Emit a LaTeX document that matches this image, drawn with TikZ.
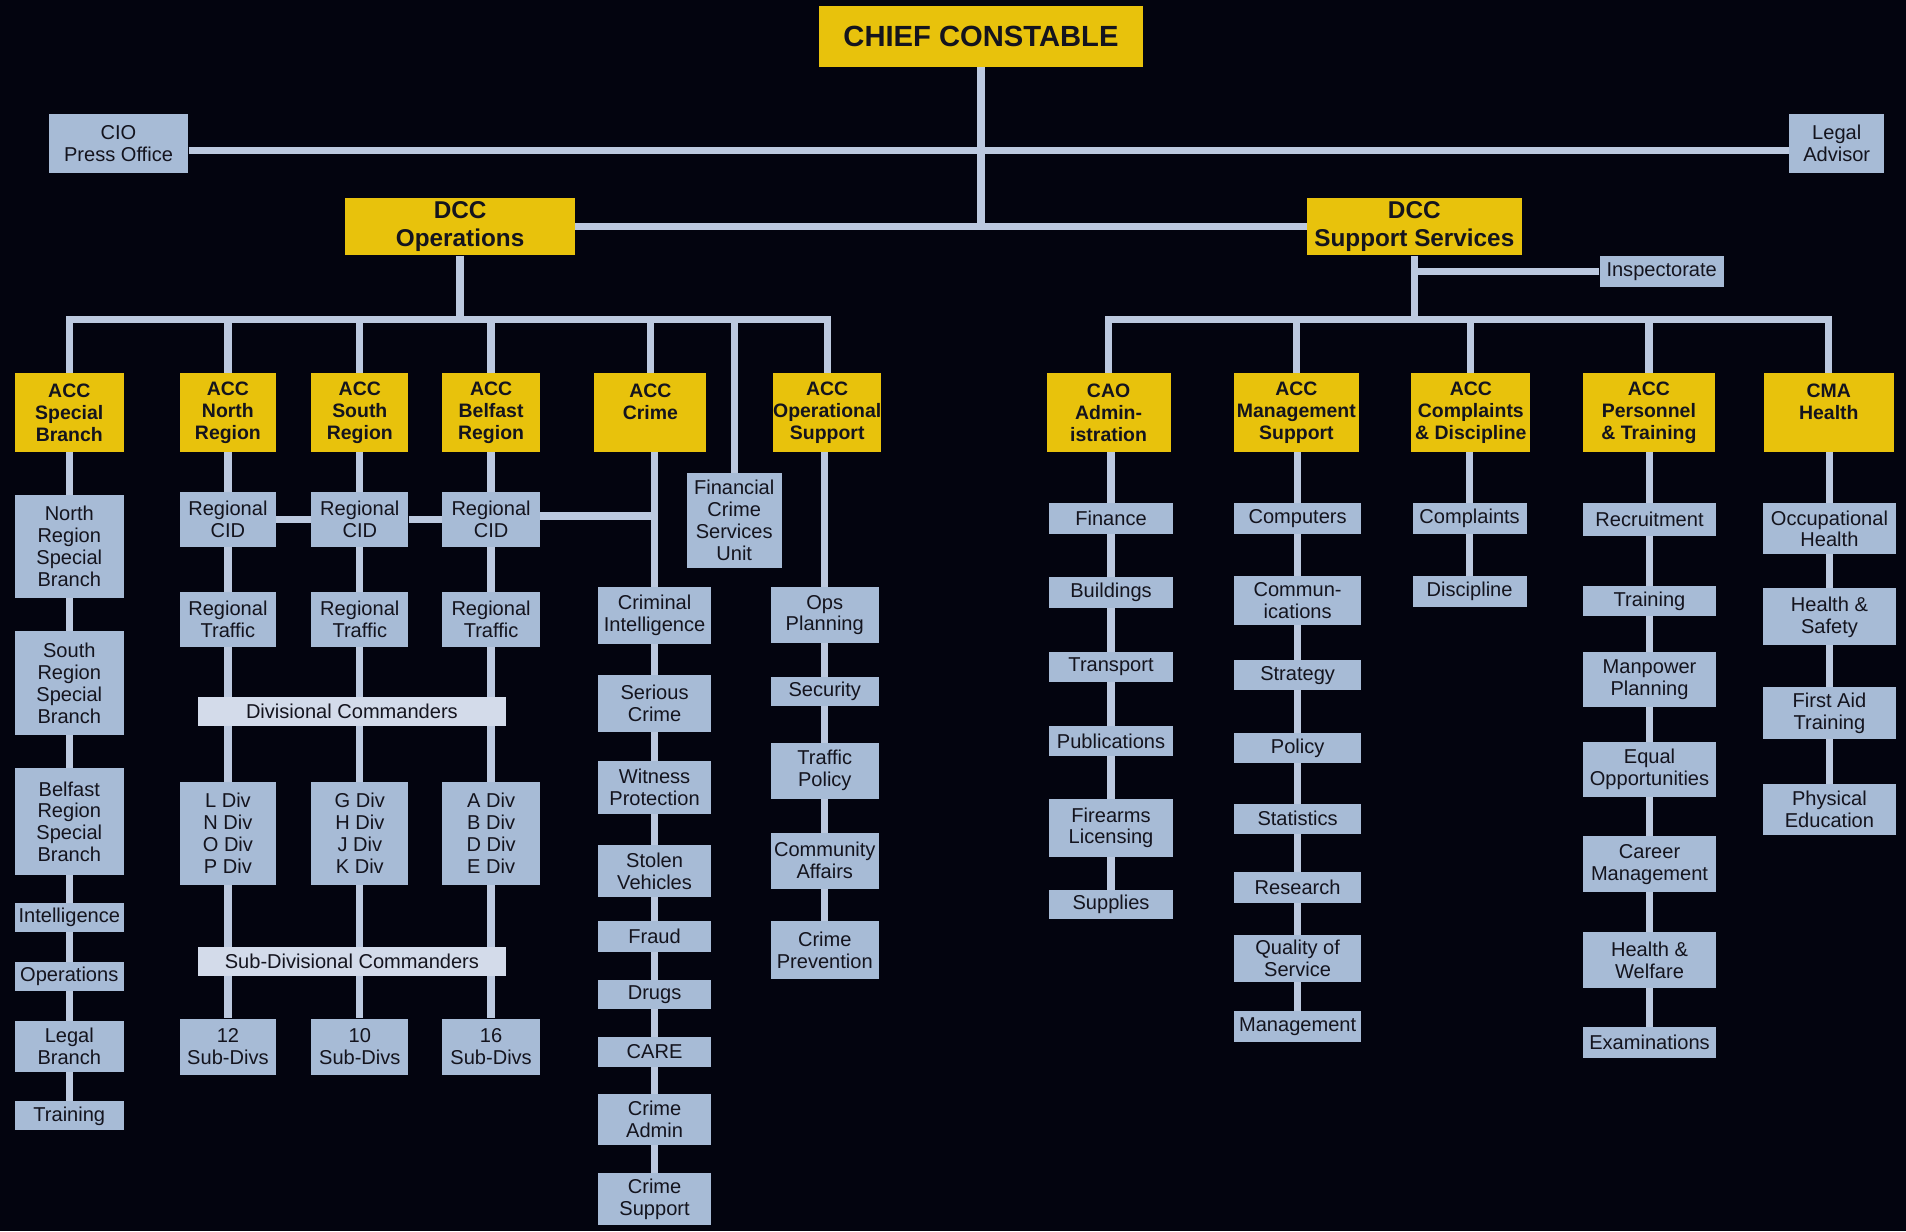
\documentclass[tikz,border=0pt]{standalone}
\usepackage{fontspec}
\setmainfont{Liberation Sans}
\usetikzlibrary{backgrounds}
\definecolor{bgc}{HTML}{03040F}
\definecolor{yel}{HTML}{E8C20C}
\definecolor{blu}{HTML}{A7BBD6}
\definecolor{barc}{HTML}{D3DBEA}
\definecolor{lnc}{HTML}{BCC9DF}
\definecolor{txt}{HTML}{14141E}
\tikzset{
 box/.style={inner sep=0pt, align=center, text=txt},
 yb/.style={box, fill=yel, font=\bfseries\fontsize{16}{18}\selectfont},
 bb/.style={box, fill=blu, font=\fontsize{16.5}{18}\selectfont},
 barbox/.style={box, fill=barc, font=\fontsize{16.5}{18}\selectfont},
 conn/.style={draw=lnc, line width=6pt},
 big/.style={font=\bfseries\fontsize{20}{23}\selectfont},
}
\begin{document}
\begin{tikzpicture}[x=1pt,y=-1pt]
\useasboundingbox (0,0) rectangle (1568,1013);
% top
\node[yb, minimum width=266, minimum height=50, font=\bfseries\fontsize{24}{26}\selectfont] (chief) at (807,30) {CHIEF CONSTABLE};
\node[bb, minimum width=115, minimum height=48] (cio) at (97.5,118) {CIO\\Press Office};
\node[bb, minimum width=78, minimum height=48] (legal) at (1511,118) {Legal\\Advisor};
\node[yb, big, minimum width=189, minimum height=47] (dccops) at (378.5,186.5) {DCC\\Operations};
\node[yb, big, minimum width=177, minimum height=47] (dccss) at (1163.5,186.5) {DCC\\Support Services};
\node[bb, minimum width=102, minimum height=25] (insp) at (1367,223.5) {Inspectorate};
% level 2
\node[yb, minimum width=90, minimum height=65] (accsb) at (57,339.5) {ACC\\Special\\Branch};
\node[yb, minimum width=79, minimum height=65] (accnr) at (187.5,339.5) {ACC\\North\\Region};
\node[yb, minimum width=80, minimum height=65] (accsr) at (296,339.5) {ACC\\South\\Region};
\node[yb, minimum width=80, minimum height=65] (accbr) at (404,339.5) {ACC\\Belfast\\Region};
\node[yb, minimum width=92, minimum height=65] (acccrime) at (535,339.5) {ACC\\Crime\\\mbox{}};
\node[yb, minimum width=89, minimum height=65] (accos) at (680.5,339.5) {ACC\\Operational\\Support};
\node[yb, minimum width=102, minimum height=65] (cao) at (912,339.5) {CAO\\Admin-\\istration};
\node[yb, minimum width=103, minimum height=65] (accms) at (1066.5,339.5) {ACC\\Management\\Support};
\node[yb, minimum width=98, minimum height=65] (acccd) at (1210,339.5) {ACC\\Complaints\\\& Discipline};
\node[yb, minimum width=109, minimum height=65] (accpt) at (1356.5,339.5) {ACC\\Personnel\\\& Training};
\node[yb, minimum width=107, minimum height=65] (cma) at (1504.5,339.5) {CMA\\Health\\\mbox{}};
% special branch column
\node[bb, minimum width=90, minimum height=85] (nrsb) at (57,449.5) {North\\Region\\Special\\Branch};
\node[bb, minimum width=90, minimum height=86] (srsb) at (57,562) {South\\Region\\Special\\Branch};
\node[bb, minimum width=90, minimum height=88] (brsb) at (57,676) {Belfast\\Region\\Special\\Branch};
\node[bb, minimum width=90, minimum height=24] (intel) at (57,755) {Intelligence};
\node[bb, minimum width=90, minimum height=24] (opsb) at (57,803) {Operations};
\node[bb, minimum width=90, minimum height=42] (legalb) at (57,861) {Legal\\Branch};
\node[bb, minimum width=90, minimum height=24] (trainsb) at (57,918) {Training};
% regional columns
\node[bb, minimum width=79, minimum height=45] (cidN) at (187.5,427.5) {Regional\\CID};
\node[bb, minimum width=80, minimum height=45] (cidS) at (296,427.5) {Regional\\CID};
\node[bb, minimum width=80, minimum height=45] (cidB) at (404,427.5) {Regional\\CID};
\node[bb, minimum width=79, minimum height=45] (trafN) at (187.5,509.5) {Regional\\Traffic};
\node[bb, minimum width=80, minimum height=45] (trafS) at (296,509.5) {Regional\\Traffic};
\node[bb, minimum width=80, minimum height=45] (trafB) at (404,509.5) {Regional\\Traffic};
\node[barbox, minimum width=253, minimum height=24] (divcom) at (289.5,585) {Divisional Commanders};
\node[bb, minimum width=79, minimum height=85] (divN) at (187.5,685.5) {L Div\\N Div\\O Div\\P Div};
\node[bb, minimum width=80, minimum height=85] (divS) at (296,685.5) {G Div\\H Div\\J Div\\K Div};
\node[bb, minimum width=80, minimum height=85] (divB) at (404,685.5) {A Div\\B Div\\D Div\\E Div};
\node[barbox, minimum width=253, minimum height=24] (subcom) at (289.5,791) {Sub-Divisional Commanders};
\node[bb, minimum width=79, minimum height=46] (subN) at (187.5,861) {12\\Sub-Divs};
\node[bb, minimum width=80, minimum height=46] (subS) at (296,861) {10\\Sub-Divs};
\node[bb, minimum width=80, minimum height=46] (subB) at (404,861) {16\\Sub-Divs};
% crime column
\node[bb, minimum width=93, minimum height=47] (crimint) at (538.5,506.5) {Criminal\\Intelligence};
\node[bb, minimum width=93, minimum height=47] (serious) at (538.5,578.5) {Serious\\Crime};
\node[bb, minimum width=93, minimum height=44] (witness) at (538.5,648) {Witness\\Protection};
\node[bb, minimum width=93, minimum height=43] (stolen) at (538.5,716.5) {Stolen\\Vehicles};
\node[bb, minimum width=93, minimum height=25] (fraud) at (538.5,770.5) {Fraud};
\node[bb, minimum width=93, minimum height=24] (drugs) at (538.5,818) {Drugs};
\node[bb, minimum width=93, minimum height=25] (care) at (538.5,865.5) {CARE};
\node[bb, minimum width=93, minimum height=42] (cadmin) at (538.5,921) {Crime\\Admin};
\node[bb, minimum width=93, minimum height=43] (csupport) at (538.5,986.5) {Crime\\Support};
\node[bb, minimum width=78, minimum height=78] (fcsu) at (604,428) {Financial\\Crime\\Services\\Unit};
% ops support column
\node[bb, minimum width=89, minimum height=46] (opsplan) at (678.5,506) {Ops\\Planning};
\node[bb, minimum width=89, minimum height=24] (security) at (678.5,569) {Security};
\node[bb, minimum width=89, minimum height=46] (trafpol) at (678.5,634) {Traffic\\Policy};
\node[bb, minimum width=89, minimum height=46] (community) at (678.5,708) {Community\\Affairs};
\node[bb, minimum width=89, minimum height=47] (crimeprev) at (678.5,781.5) {Crime\\Prevention};
% CAO column
\node[bb, minimum width=102, minimum height=25] (finance) at (914,426.5) {Finance};
\node[bb, minimum width=102, minimum height=25] (buildings) at (914,487.5) {Buildings};
\node[bb, minimum width=102, minimum height=25] (transport) at (914,548.5) {Transport};
\node[bb, minimum width=102, minimum height=25] (publications) at (914,609.5) {Publications};
\node[bb, minimum width=102, minimum height=48] (firearms) at (914,681) {Firearms\\Licensing};
\node[bb, minimum width=102, minimum height=24] (supplies) at (914,744) {Supplies};
% management support column
\node[bb, minimum width=105, minimum height=25] (computers) at (1067.5,426.5) {Computers};
\node[bb, minimum width=105, minimum height=40] (comms) at (1067.5,494) {Commun-\\ications};
\node[bb, minimum width=105, minimum height=25] (strategy) at (1067.5,555.5) {Strategy};
\node[bb, minimum width=105, minimum height=25] (policy) at (1067.5,615.5) {Policy};
\node[bb, minimum width=105, minimum height=25] (statistics) at (1067.5,673.5) {Statistics};
\node[bb, minimum width=105, minimum height=26] (research) at (1067.5,730) {Research};
\node[bb, minimum width=105, minimum height=39] (quality) at (1067.5,788.5) {Quality of\\Service};
\node[bb, minimum width=105, minimum height=25] (management) at (1067.5,844.5) {Management};
% complaints column
\node[bb, minimum width=94, minimum height=25] (complaints) at (1209,426.5) {Complaints};
\node[bb, minimum width=94, minimum height=25] (discipline) at (1209,486.5) {Discipline};
% personnel column
\node[bb, minimum width=110, minimum height=27] (recruitment) at (1357,427.5) {Recruitment};
\node[bb, minimum width=110, minimum height=25] (trainingP) at (1357,494.5) {Training};
\node[bb, minimum width=110, minimum height=46] (manpower) at (1357,559) {Manpower\\Planning};
\node[bb, minimum width=110, minimum height=46] (equal) at (1357,633) {Equal\\Opportunities};
\node[bb, minimum width=110, minimum height=46] (career) at (1357,711) {Career\\Management};
\node[bb, minimum width=110, minimum height=46] (healthw) at (1357,790) {Health \&\\Welfare};
\node[bb, minimum width=110, minimum height=25] (exams) at (1357,857.5) {Examinations};
% health column
\node[bb, minimum width=110, minimum height=42] (occ) at (1505,435) {Occupational\\Health};
\node[bb, minimum width=110, minimum height=47] (hs) at (1505,507.5) {Health \&\\Safety};
\node[bb, minimum width=110, minimum height=43] (firstaid) at (1505,586.5) {First Aid\\Training};
\node[bb, minimum width=110, minimum height=42] (physed) at (1505,666) {Physical\\Education};
% connectors
\begin{scope}[on background layer]
\fill[bgc] (0,0) rectangle (1568,1013);
\coordinate (busL) at (378.5,263);
\coordinate (busR) at (1163.5,263);
\draw[conn] (chief.south) -- (chief.south |- dccops.center);
\draw[conn] ([yshift=-6pt]cio.east) -- ([yshift=-6pt]legal.west);
\draw[conn] (dccops) -- (dccss);
\draw[conn] (dccops.south) -- (busL);
\draw[conn] (accsb.north) |- (busL) -| (accos.north);
\foreach \n in {accnr,accsr,accbr,acccrime,fcsu}
  \draw[conn] (\n.north) -- (\n.north |- busL);
\draw[conn] (dccss.south) -- (busR);
\draw[conn] (insp.west) -- (insp.west -| busR);
\draw[conn] (cao.north) |- (busR) -| (cma.north);
\foreach \n in {accms,acccd,accpt}
  \draw[conn] (\n.north) -- (\n.north |- busR);
% columns
\draw[conn] (accsb) -- (trainsb);
\draw[conn] (accnr) -- (subN);
\draw[conn] (accsr) -- (subS);
\draw[conn] (accbr) -- (subB);
\draw[conn] (cidN) -- (cidS);
\draw[conn] (cidS) -- (cidB);
\draw[conn] ([yshift=3pt]cidB.east) -- ([yshift=3pt]cidB.east -| crimint);
\draw[conn] (acccrime.south -| crimint) -- (csupport);
\draw[conn] (accos.south -| opsplan) -- (crimeprev);
\draw[conn] (cao.south -| finance) -- (supplies);
\draw[conn] (accms.south -| computers) -- (management);
\draw[conn] (acccd.south -| complaints) -- (discipline);
\draw[conn] (accpt.south -| recruitment) -- (exams);
\draw[conn] (cma.south -| occ) -- (physed);
\end{scope}
\end{tikzpicture}
\end{document}
